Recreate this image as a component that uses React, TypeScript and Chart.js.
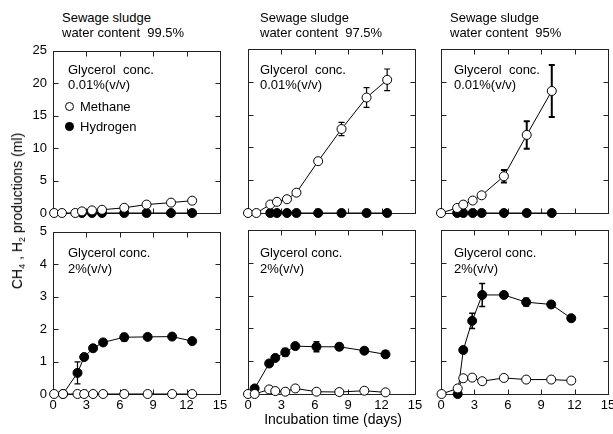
import React, { useEffect, useRef } from 'react';
import { Chart, registerables } from 'chart.js';

Chart.register(...registerables);

// ---------------- DATA ----------------
const xTickValues = [0, 3, 6, 9, 12, 15];
const waterContents = ['99.5%', '97.5%', '95%'];
const glycerolLow = '0.01%(v/v)';
const glycerolHigh = '2%(v/v)';

// Top row: glycerol 0.01% (v/v)
const daysA = [0.1, 0.8, 2.0, 2.6, 3.5, 4.4, 6.4, 8.4, 10.6, 12.5];
const methaneA = [0, 0, 0, 0.25, 0.4, 0.5, 0.8, 1.3, 1.6, 1.9];
const hydrogenA = [null, null, null, 0, 0, 0, 0, 0, 0, 0];
const methaneErrA = [0, 0, 0, 0, 0, 0, 0, 0, 0, 0];

const daysB = [0, 0.75, 2.0, 2.6, 3.5, 4.35, 6.3, 8.4, 10.65, 12.5];
const methaneB = [0, 0, 1.3, 1.7, 2.1, 3.1, 7.9, 12.8, 17.6, 20.3];
const hydrogenB = [null, null, 0, 0, 0, 0, 0, 0, 0, 0];
const methaneErrB = [0, 0, 0, 0, 0, 0, 0, 1.0, 1.5, 1.65];

const daysC = [0, 1.45, 2.0, 2.85, 3.65, 5.65, 7.7, 9.95];
const methaneC = [0, 0.77, 1.28, 1.9, 2.7, 5.6, 11.9, 18.6];
const hydrogenC = [null, 0, 0, 0, 0, 0, 0, 0];
const methaneErrC = [0, 0, 0, 0, 0, 0.95, 2.1, 3.95];

// Bottom row: glycerol 2% (v/v)
const daysD = [0.1, 0.9, 2.2, 2.8, 3.6, 4.5, 6.4, 8.5, 10.7, 12.5];
const methaneD = [0, 0, 0, 0, 0, 0, 0, 0, 0, 0];
const hydrogenD = [null, 0, 0.65, 1.14, 1.41, 1.59, 1.75, 1.76, 1.77, 1.63];
const hydrogenErrD = [0, 0, 0.34, 0, 0, 0, 0.12, 0, 0, 0];

const daysE = [0, 0.6, 1.9, 2.45, 3.35, 4.25, 6.15, 8.2, 10.45, 12.35];
const methaneE = [0, 0, 0.14, 0.09, 0.07, 0.17, 0.07, 0.06, 0.1, 0.05];
const hydrogenE = [null, 0.17, 0.93, 1.1, 1.27, 1.46, 1.44, 1.44, 1.32, 1.21];
const hydrogenErrE = [0, 0, 0, 0, 0.12, 0, 0.15, 0.1, 0.08, 0.1];

const daysF = [0.05, 1.5, 2.0, 2.8, 3.7, 5.65, 7.65, 9.9, 11.7];
const methaneF = [0, 0.17, 0.48, 0.5, 0.39, 0.49, 0.44, 0.44, 0.41];
const hydrogenF = [null, 0, 1.34, 2.23, 3.02, 3.02, 2.8, 2.73, 2.31];
const hydrogenErrF = [0, 0, 0, 0.23, 0.35, 0.05, 0.12, 0, 0.08];

// ---------------- LAYOUT ----------------
const COL_LEFT = [53, 248, 441];
const ROW_TOP = [49, 230];
const PW = 167;
const PH = 164;
const PAD_L = 50;
const PAD_T = 12;
const PAD_R = 16;
const PAD_B = 28;
const FONT = '"Liberation Sans", Arial, sans-serif';

type Panel = {
  col: number;
  row: number;
  days: number[];
  methane: (number | null)[];
  hydrogen: (number | null)[];
  methaneErr?: number[];
  hydrogenErr?: number[];
  yMax: number;
  yStep: number;
  errWidth: number;
};

const panels: Panel[] = [
  { col: 0, row: 0, days: daysA, methane: methaneA, hydrogen: hydrogenA, methaneErr: methaneErrA, yMax: 25, yStep: 5, errWidth: 1 },
  { col: 1, row: 0, days: daysB, methane: methaneB, hydrogen: hydrogenB, methaneErr: methaneErrB, yMax: 25, yStep: 5, errWidth: 1.2 },
  { col: 2, row: 0, days: daysC, methane: methaneC, hydrogen: hydrogenC, methaneErr: methaneErrC, yMax: 25, yStep: 5, errWidth: 2 },
  { col: 0, row: 1, days: daysD, methane: methaneD, hydrogen: hydrogenD, hydrogenErr: hydrogenErrD, yMax: 5, yStep: 1, errWidth: 1.2 },
  { col: 1, row: 1, days: daysE, methane: methaneE, hydrogen: hydrogenE, hydrogenErr: hydrogenErrE, yMax: 5, yStep: 1, errWidth: 1.5 },
  { col: 2, row: 1, days: daysF, methane: methaneF, hydrogen: hydrogenF, hydrogenErr: hydrogenErrF, yMax: 5, yStep: 1, errWidth: 1.5 },
];

const toPoints = (xs: number[], ys: (number | null)[]) =>
  xs.map((x, i) => ({ x, y: ys[i] })).filter((p) => p.y !== null && p.y !== undefined);

const framePlugin = {
  id: 'frame',
  beforeDatasetsDraw(chart: any) {
    const { ctx, chartArea, scales } = chart;
    const l = Math.round(chartArea.left) + 0.5;
    const r = Math.round(chartArea.right) + 0.5;
    const t = Math.round(chartArea.top) + 0.5;
    const b = Math.round(chartArea.bottom) + 0.5;
    ctx.save();
    ctx.strokeStyle = '#222';
    ctx.lineWidth = 1;
    ctx.strokeRect(l, t, r - l, b - t);
    const TL = 5;
    ctx.beginPath();
    scales.x.ticks.forEach((tk: any) => {
      const px = Math.round(scales.x.getPixelForValue(tk.value)) + 0.5;
      ctx.moveTo(px, b);
      ctx.lineTo(px, b - TL);
      ctx.moveTo(px, t);
      ctx.lineTo(px, t + TL);
    });
    scales.y.ticks.forEach((tk: any) => {
      const py = Math.round(scales.y.getPixelForValue(tk.value)) + 0.5;
      ctx.moveTo(l, py);
      ctx.lineTo(l + TL, py);
      ctx.moveTo(r, py);
      ctx.lineTo(r - TL, py);
    });
    ctx.stroke();
    ctx.restore();
  },
};

const errorPlugin = {
  id: 'errorBars',
  beforeDatasetsDraw(chart: any, _args: any, opts: any) {
    const sets = opts && opts.sets ? opts.sets : [];
    const { ctx, scales } = chart;
    ctx.save();
    ctx.strokeStyle = '#000';
    ctx.lineWidth = opts.width || 1;
    sets.forEach((s: any) => {
      s.xs.forEach((x: number, i: number) => {
        const v = s.ys[i];
        const e = s.errs[i];
        if (v === null || !e) return;
        const px = scales.x.getPixelForValue(x);
        const pTop = scales.y.getPixelForValue(v + e);
        const pBot = scales.y.getPixelForValue(Math.max(0, v - e));
        ctx.beginPath();
        ctx.moveTo(px, pTop);
        ctx.lineTo(px, pBot);
        ctx.moveTo(px - 3, pTop);
        ctx.lineTo(px + 3, pTop);
        ctx.moveTo(px - 3, pBot);
        ctx.lineTo(px + 3, pBot);
        ctx.stroke();
      });
    });
    ctx.restore();
  },
};

function PanelChart({ p }: { p: Panel }) {
  const ref = useRef<HTMLCanvasElement>(null);
  useEffect(() => {
    if (!ref.current) return;
    const showY = p.col === 0;
    const showX = p.row === 1;
    const sets: any[] = [];
    if (p.methaneErr) sets.push({ xs: p.days, ys: p.methane, errs: p.methaneErr });
    if (p.hydrogenErr) sets.push({ xs: p.days, ys: p.hydrogen, errs: p.hydrogenErr });
    const chart = new Chart(ref.current, {
      type: 'scatter',
      data: {
        datasets: [
          {
            label: 'Methane',
            data: toPoints(p.days, p.methane) as any,
            showLine: true,
            clip: false,
            borderColor: '#000',
            borderWidth: 1,
            pointRadius: 4.5,
            pointBackgroundColor: '#fff',
            pointBorderColor: '#000',
            pointBorderWidth: 1,
          },
          {
            label: 'Hydrogen',
            data: toPoints(p.days, p.hydrogen) as any,
            showLine: true,
            clip: false,
            borderColor: '#000',
            borderWidth: 1,
            pointRadius: 4.5,
            pointBackgroundColor: '#000',
            pointBorderColor: '#000',
            pointBorderWidth: 1,
          },
        ] as any,
      },
      options: {
        animation: false,
        responsive: false,
        maintainAspectRatio: false,
        layout: { padding: { top: PAD_T, right: PAD_R, left: 0, bottom: 0 } },
        plugins: {
          legend: { display: false },
          tooltip: { enabled: false },
          errorBars: { sets, width: p.errWidth },
        } as any,
        scales: {
          x: {
            type: 'linear',
            min: 0,
            max: 15,
            afterBuildTicks: (s: any) => {
              s.ticks = xTickValues.map((v) => ({ value: v }));
            },
            ticks: {
              display: showX,
              color: '#000',
              font: { family: FONT, size: 13 },
              padding: 4,
              maxRotation: 0,
              autoSkip: false,
            },
            grid: { display: false, drawTicks: false },
            border: { display: false },
            afterFit: (s: any) => {
              s.height = PAD_B;
            },
          },
          y: {
            type: 'linear',
            min: 0,
            max: p.yMax,
            ticks: {
              stepSize: p.yStep,
              display: showY,
              color: '#000',
              font: { family: FONT, size: 13 },
              padding: 6,
            },
            grid: { display: false, drawTicks: false },
            border: { display: false },
            afterFit: (s: any) => {
              s.width = PAD_L;
            },
          },
        },
      },
      plugins: [framePlugin, errorPlugin],
    });
    return () => chart.destroy();
  }, [p]);
  const left = COL_LEFT[p.col] - PAD_L;
  const top = ROW_TOP[p.row] - PAD_T;
  const w = PW + PAD_L + PAD_R;
  const h = PH + PAD_T + PAD_B;
  return (
    <canvas
      ref={ref}
      width={w}
      height={h}
      style={{ position: 'absolute', left, top, width: w, height: h }}
    />
  );
}

const txt = (left: number, baseline: number, size = 13): React.CSSProperties => ({
  position: 'absolute',
  left,
  top: baseline - Math.round(size * 0.85),
  fontSize: size,
  lineHeight: `${size}px`,
  whiteSpace: 'pre',
  color: '#000',
});

const TITLE_X = [62, 260, 450];
const GLY_X = [68, 260, 454];

export default function App() {
  return (
    <div
      style={{
        position: 'absolute',
        left: 0,
        top: 0,
        width: 613,
        height: 434,
        background: '#fff',
        fontFamily: FONT,
        overflow: 'hidden',
      }}
    >
      {panels.map((p, i) => (
        <PanelChart key={i} p={p} />
      ))}
      {waterContents.map((wc, i) => (
        <React.Fragment key={'t' + i}>
          <div style={txt(TITLE_X[i], 22)}>Sewage sludge</div>
          <div style={txt(TITLE_X[i], 37)}>{`water content  ${wc}`}</div>
          <div style={txt(GLY_X[i], 74)}>{'Glycerol  conc.'}</div>
          <div style={txt(GLY_X[i], 89)}>{glycerolLow}</div>
          <div style={txt(GLY_X[i], 257)}>{'Glycerol conc.'}</div>
          <div style={txt(GLY_X[i], 273)}>{glycerolHigh}</div>
        </React.Fragment>
      ))}
      {/* legend */}
      <div
        style={{
          position: 'absolute',
          left: 65,
          top: 102,
          width: 9,
          height: 9,
          borderRadius: '50%',
          border: '1px solid #000',
          background: '#fff',
          boxSizing: 'border-box',
        }}
      />
      <div style={txt(80, 111)}>Methane</div>
      <div
        style={{
          position: 'absolute',
          left: 65,
          top: 122,
          width: 9,
          height: 9,
          borderRadius: '50%',
          background: '#000',
        }}
      />
      <div style={txt(80, 131)}>Hydrogen</div>
      {/* axis titles */}
      <div
        style={{
          position: 'absolute',
          left: 333,
          top: 412,
          transform: 'translateX(-50%)',
          fontSize: 14,
          lineHeight: '14px',
          whiteSpace: 'pre',
        }}
      >
        Incubation time (days)
      </div>
      <div
        style={{
          position: 'absolute',
          left: 17,
          top: 211,
          transform: 'translate(-50%, -50%) rotate(-90deg)',
          fontSize: 14,
          lineHeight: '16px',
          whiteSpace: 'pre',
        }}
      >
        CH<sub style={{ fontSize: 9, verticalAlign: '-3px', lineHeight: 0 }}>4</sub>
        {' , H'}
        <sub style={{ fontSize: 9, verticalAlign: '-3px', lineHeight: 0 }}>2</sub>
        {' productions (ml)'}
      </div>
    </div>
  );
}
